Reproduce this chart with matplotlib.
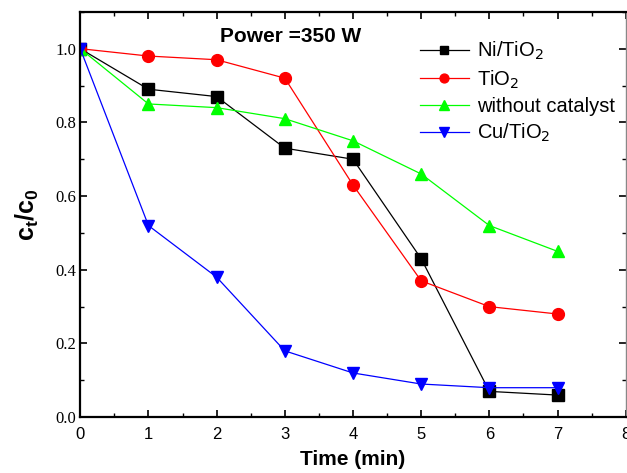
import numpy as np
import matplotlib.pyplot as plt
from matplotlib.ticker import MultipleLocator

time_min = [0, 1, 2, 3, 4, 5, 6, 7]
ni_tio2 = [1.0, 0.89, 0.87, 0.73, 0.70, 0.43, 0.07, 0.06]
tio2 = [1.0, 0.98, 0.97, 0.92, 0.63, 0.37, 0.30, 0.28]
no_catalyst = [1.0, 0.85, 0.84, 0.81, 0.75, 0.66, 0.52, 0.45]
cu_tio2 = [1.0, 0.52, 0.38, 0.18, 0.12, 0.09, 0.08, 0.08]

fig = plt.figure(figsize=(6.27, 4.73), dpi=100)
ax = fig.add_axes([0.128, 0.118, 0.870, 0.857])

ax.plot(time_min, ni_tio2, color='black', marker='s', ms=8, lw=0.9, label='Ni/TiO$_2$')
ax.plot(time_min, tio2, color='red', marker='o', ms=8.5, lw=0.9, label='TiO$_2$')
ax.plot(time_min, no_catalyst, color='#00ff00', marker='^', ms=9, lw=0.9, label='without catalyst')
ax.plot(time_min, cu_tio2, color='blue', marker='v', ms=9, lw=0.9, label='Cu/TiO$_2$')

ax.set_xlim(0, 8)
ax.set_ylim(0, 1.1)
ax.xaxis.set_major_locator(MultipleLocator(1))
ax.xaxis.set_minor_locator(MultipleLocator(0.5))
ax.yaxis.set_major_locator(MultipleLocator(0.2))
ax.yaxis.set_minor_locator(MultipleLocator(0.1))
ax.tick_params(which='both', direction='in', top=True, right=True)
ax.tick_params(which='major', length=5, width=1.2)
ax.tick_params(which='minor', length=3, width=1.0)
ax.tick_params(axis='x', labelsize=12, pad=7)
ax.tick_params(axis='y', labelsize=12, pad=3)
for lbl in ax.get_xticklabels():
    lbl.set_family('Liberation Sans')
for lbl in ax.get_yticklabels():
    lbl.set_family('Liberation Serif')

for side in ['left', 'bottom', 'top']:
    ax.spines[side].set_linewidth(1.6)
ax.spines['right'].set_linewidth(1.0)
ax.spines['right'].set_color('#888888')

ax.set_xlabel('Time (min)', fontsize=15, fontweight='bold', family='Liberation Sans', labelpad=6)
ax.set_ylabel('c$_\\mathregular{t}$/c$_\\mathregular{0}$', fontsize=18, fontweight='bold',
              family='Liberation Sans', labelpad=10)

ax.text(0.257, 0.938, 'Power =350 W', transform=ax.transAxes, fontsize=15, fontweight='bold',
        family='Liberation Sans', va='center')

leg = ax.legend(loc='upper left', bbox_to_anchor=(0.59, 0.975), frameon=False,
                prop={'family': 'Liberation Sans', 'size': 14.5}, handlelength=2.4,
                handletextpad=0.4, labelspacing=0.3, markerscale=0.75)

fig.savefig('out.png', dpi=100)
